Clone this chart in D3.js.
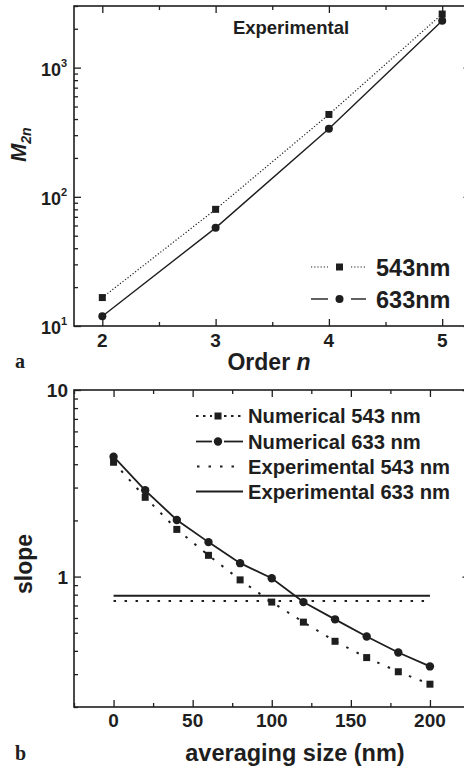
<!DOCTYPE html>
<html>
<head>
<meta charset="utf-8">
<title>M2n and slope</title>
<script src="https://d3js.org/d3.v7.min.js"></script>
<style>
  body { margin: 0; background: #fff; }
  text { font-family: "Liberation Sans", sans-serif; font-weight: bold; fill: #1e1e1e; }
</style>
</head>
<body>
<div id="chart"></div>
<script>
/* global d3 */

// panel a
const orders = [2, 3, 4, 5];
const m543 = [16.6, 80, 434, 2600];
const m633 = [11.9, 57.5, 336, 2310];
const orderTicks = [2, 3, 4, 5];
const mTicks = [10, 100, 1000];
const mExp = ['1', '2', '3'];

// panel b
const sizes = [0, 20, 40, 60, 80, 100, 120, 140, 160, 180, 200];
const num543 = [4.1, 2.66, 1.79, 1.30, 0.96, 0.73, 0.57, 0.45, 0.368, 0.309, 0.265];
const num633 = [4.39, 2.90, 2.01, 1.53, 1.18, 0.98, 0.73, 0.59, 0.477, 0.392, 0.33];
const expSizes = [0, 200];
const exp543 = [0.74, 0.74];
const exp633 = [0.79, 0.79];
const sizeTicks = [0, 50, 100, 150, 200];
const slopeTicks = [1, 10];
const legendB = ['Numerical 543 nm', 'Numerical 633 nm', 'Experimental 543 nm', 'Experimental 633 nm'];

const ink = '#1e1e1e';

const svg = d3.select('#chart')
  .append('svg')
    .attr('width', 464)
    .attr('height', 770);

svg.append('rect').attr('width', 464).attr('height', 770).attr('fill', '#fff');

function logMinors(lo, hi) {
  const out = [];
  for (let p = Math.floor(Math.log10(lo)); p <= Math.ceil(Math.log10(hi)); p++) {
    for (let k = 1; k < 10; k++) {
      const v = k * Math.pow(10, p);
      if (v >= lo && v <= hi) out.push(v);
    }
  }
  return out;
}

// draws the four sides of a frame with inward ticks
function frame(g, x, y, xMajor, xMinor, yMajor, yMinor) {
  const [x0, x1] = x.range();
  const [y0, y1] = y.range();
  const ax = (gen, tx, ty, vals, size) => {
    g.append('g')
      .attr('transform', `translate(${tx},${ty})`)
      .call(gen.tickValues(vals).tickSize(size).tickFormat(''))
      .call(s => s.selectAll('line').attr('stroke', ink).attr('stroke-width', 1.3))
      .call(s => s.select('.domain').remove());
  };
  ax(d3.axisBottom(x), 0, y0, xMajor, -7);
  ax(d3.axisBottom(x), 0, y0, xMinor, -4);
  ax(d3.axisTop(x), 0, y1, xMajor, -7);
  ax(d3.axisTop(x), 0, y1, xMinor, -4);
  ax(d3.axisLeft(y), x0, 0, yMajor, -7);
  ax(d3.axisLeft(y), x0, 0, yMinor, -4);
  ax(d3.axisRight(y), x1, 0, yMajor, -7);
  ax(d3.axisRight(y), x1, 0, yMinor, -4);
  g.append('rect')
    .attr('x', x0).attr('y', y1)
    .attr('width', x1 - x0).attr('height', y0 - y1)
    .attr('fill', 'none').attr('stroke', ink).attr('stroke-width', 1.6);
}

// ---------- panel a ----------
const xa = d3.scaleLinear().domain([1.75, 5.25]).range([74, 470.5]);
const ya = d3.scaleLog().domain([10, 3000]).range([326, 6]);
const ga = svg.append('g');

frame(ga, xa, ya, orderTicks, [2.5, 3.5, 4.5],
  mTicks, logMinors(10, 3000).filter(v => !mTicks.includes(v)));

const lineA = d3.line().x((d, i) => xa(orders[i])).y(d => ya(d));
ga.append('path').datum(m543).attr('d', lineA)
  .attr('fill', 'none').attr('stroke', ink).attr('stroke-width', 1.2)
  .attr('stroke-dasharray', '1.2,2');
ga.append('path').datum(m633).attr('d', lineA)
  .attr('fill', 'none').attr('stroke', ink).attr('stroke-width', 1.4);

ga.selectAll('rect.sq').data(m543).join('rect').attr('class', 'sq')
  .attr('x', (d, i) => xa(orders[i]) - 3.5).attr('y', d => ya(d) - 3.5)
  .attr('width', 7).attr('height', 7).attr('fill', ink);
ga.selectAll('circle.ci').data(m633).join('circle').attr('class', 'ci')
  .attr('cx', (d, i) => xa(orders[i])).attr('cy', d => ya(d))
  .attr('r', 4).attr('fill', ink);

ga.selectAll('text.xt').data(orderTicks).join('text').attr('class', 'xt')
  .attr('x', d => xa(d)).attr('y', 347)
  .attr('text-anchor', 'middle').style('font-size', '19px').text(d => d);

const yl = ga.selectAll('text.yt').data(mTicks).join('text').attr('class', 'yt')
  .attr('x', 41).attr('y', d => ya(d) + 8).style('font-size', '18px');
yl.append('tspan').text('10');
yl.append('tspan').attr('dy', -9).style('font-size', '11px').text((d, i) => mExp[i]);

ga.append('text').attr('x', 291).attr('y', 34).attr('text-anchor', 'middle')
  .style('font-size', '18.5px').text('Experimental');

const ml = ga.append('text').attr('transform', 'translate(26,162) rotate(-90)');
ml.append('tspan').style('font-size', '22px').style('font-style', 'italic').text('M');
ml.append('tspan').attr('dy', 5).style('font-size', '14px').style('font-style', 'italic').text('2n');

const ol = ga.append('text').attr('x', 269).attr('y', 370).attr('text-anchor', 'middle')
  .style('font-size', '23px');
ol.append('tspan').text('Order ');
ol.append('tspan').style('font-style', 'italic').text('n');

svg.append('text').attr('x', 15).attr('y', 368)
  .style('font-family', '"Liberation Serif", "DejaVu Serif", serif')
  .style('font-size', '20px').text('a');

// legend a
[[m543, 267, '543nm'], [m633, 299, '633nm']].forEach(([, cy, label], i) => {
  const dash = i === 0 ? '1.2,2' : null;
  [[311, 328], [351, 366]].forEach(([a, b]) => {
    ga.append('line').attr('x1', a).attr('x2', b).attr('y1', cy).attr('y2', cy)
      .attr('stroke', ink).attr('stroke-width', i === 0 ? 1.2 : 1.4)
      .attr('stroke-dasharray', dash);
  });
  if (i === 0) {
    ga.append('rect').attr('x', 336).attr('y', cy - 3.5).attr('width', 7).attr('height', 7).attr('fill', ink);
  } else {
    ga.append('circle').attr('cx', 339.5).attr('cy', cy).attr('r', 4).attr('fill', ink);
  }
  ga.append('text').attr('x', 376).attr('y', cy + 8.5).style('font-size', '23.5px').text(label);
});

// ---------- panel b ----------
const xb = d3.scaleLinear().domain([-25, 225]).range([74, 469.5]);
const yb = d3.scaleLog().domain([0.2, 10]).range([707, 390]);
const gb = svg.append('g');

frame(gb, xb, yb, sizeTicks, [-25, 25, 75, 125, 175, 225],
  slopeTicks, logMinors(0.2, 10).filter(v => !slopeTicks.includes(v)));

const lineB = xs => d3.line().x((d, i) => xb(xs[i])).y(d => yb(d));

gb.append('path').datum(exp543).attr('d', lineB(expSizes))
  .attr('fill', 'none').attr('stroke', ink).attr('stroke-width', 2.2)
  .attr('stroke-dasharray', '2.5,8.5');
gb.append('path').datum(exp633).attr('d', lineB(expSizes))
  .attr('fill', 'none').attr('stroke', ink).attr('stroke-width', 2);
gb.append('path').datum(num543).attr('d', lineB(sizes))
  .attr('fill', 'none').attr('stroke', ink).attr('stroke-width', 2)
  .attr('stroke-dasharray', '2.5,9');
gb.append('path').datum(num633).attr('d', lineB(sizes))
  .attr('fill', 'none').attr('stroke', ink).attr('stroke-width', 1.8);

gb.selectAll('rect.sq').data(num543).join('rect').attr('class', 'sq')
  .attr('x', (d, i) => xb(sizes[i]) - 3.5).attr('y', d => yb(d) - 3.5)
  .attr('width', 7).attr('height', 7).attr('fill', ink);
gb.selectAll('circle.ci').data(num633).join('circle').attr('class', 'ci')
  .attr('cx', (d, i) => xb(sizes[i])).attr('cy', d => yb(d))
  .attr('r', 4.2).attr('fill', ink);

gb.selectAll('text.xt').data(sizeTicks).join('text').attr('class', 'xt')
  .attr('x', d => xb(d)).attr('y', 727)
  .attr('text-anchor', 'middle').style('font-size', '19px').text(d => d);
gb.selectAll('text.yt').data(slopeTicks).join('text').attr('class', 'yt')
  .attr('x', 68).attr('y', d => yb(d) + 7)
  .attr('text-anchor', 'end').style('font-size', '19px').text(d => d);

gb.append('text').attr('transform', 'translate(32,564) rotate(-90)')
  .attr('text-anchor', 'middle').style('font-size', '23px').text('slope');
gb.append('text').attr('x', 295).attr('y', 761).attr('text-anchor', 'middle')
  .style('font-size', '23.5px').text('averaging size (nm)');
svg.append('text').attr('x', 15).attr('y', 760)
  .style('font-family', '"Liberation Serif", "DejaVu Serif", serif')
  .style('font-size', '20px').text('b');

// legend b
const rows = [416, 441.5, 466.5, 491.5];
legendB.forEach((label, i) => {
  const cy = rows[i];
  if (i === 0) {
    [[196, 212], [224, 243]].forEach(([a, b]) => gb.append('line')
      .attr('x1', a).attr('x2', b).attr('y1', cy).attr('y2', cy)
      .attr('stroke', ink).attr('stroke-width', 2).attr('stroke-dasharray', '2.5,4.5'));
    gb.append('rect').attr('x', 214.5).attr('y', cy - 3.5).attr('width', 7).attr('height', 7).attr('fill', ink);
  } else if (i === 1) {
    [[196, 212], [224, 243]].forEach(([a, b]) => gb.append('line')
      .attr('x1', a).attr('x2', b).attr('y1', cy).attr('y2', cy)
      .attr('stroke', ink).attr('stroke-width', 1.8));
    gb.append('circle').attr('cx', 218).attr('cy', cy).attr('r', 4.2).attr('fill', ink);
  } else if (i === 2) {
    gb.append('line').attr('x1', 197).attr('x2', 243).attr('y1', cy).attr('y2', cy)
      .attr('stroke', ink).attr('stroke-width', 2.2).attr('stroke-dasharray', '2.5,9');
  } else {
    gb.append('line').attr('x1', 196).attr('x2', 243).attr('y1', cy).attr('y2', cy)
      .attr('stroke', ink).attr('stroke-width', 2);
  }
  gb.append('text').attr('x', 248).attr('y', cy + 7).style('font-size', '20.2px').text(label);
});
</script>
</body>
</html>
